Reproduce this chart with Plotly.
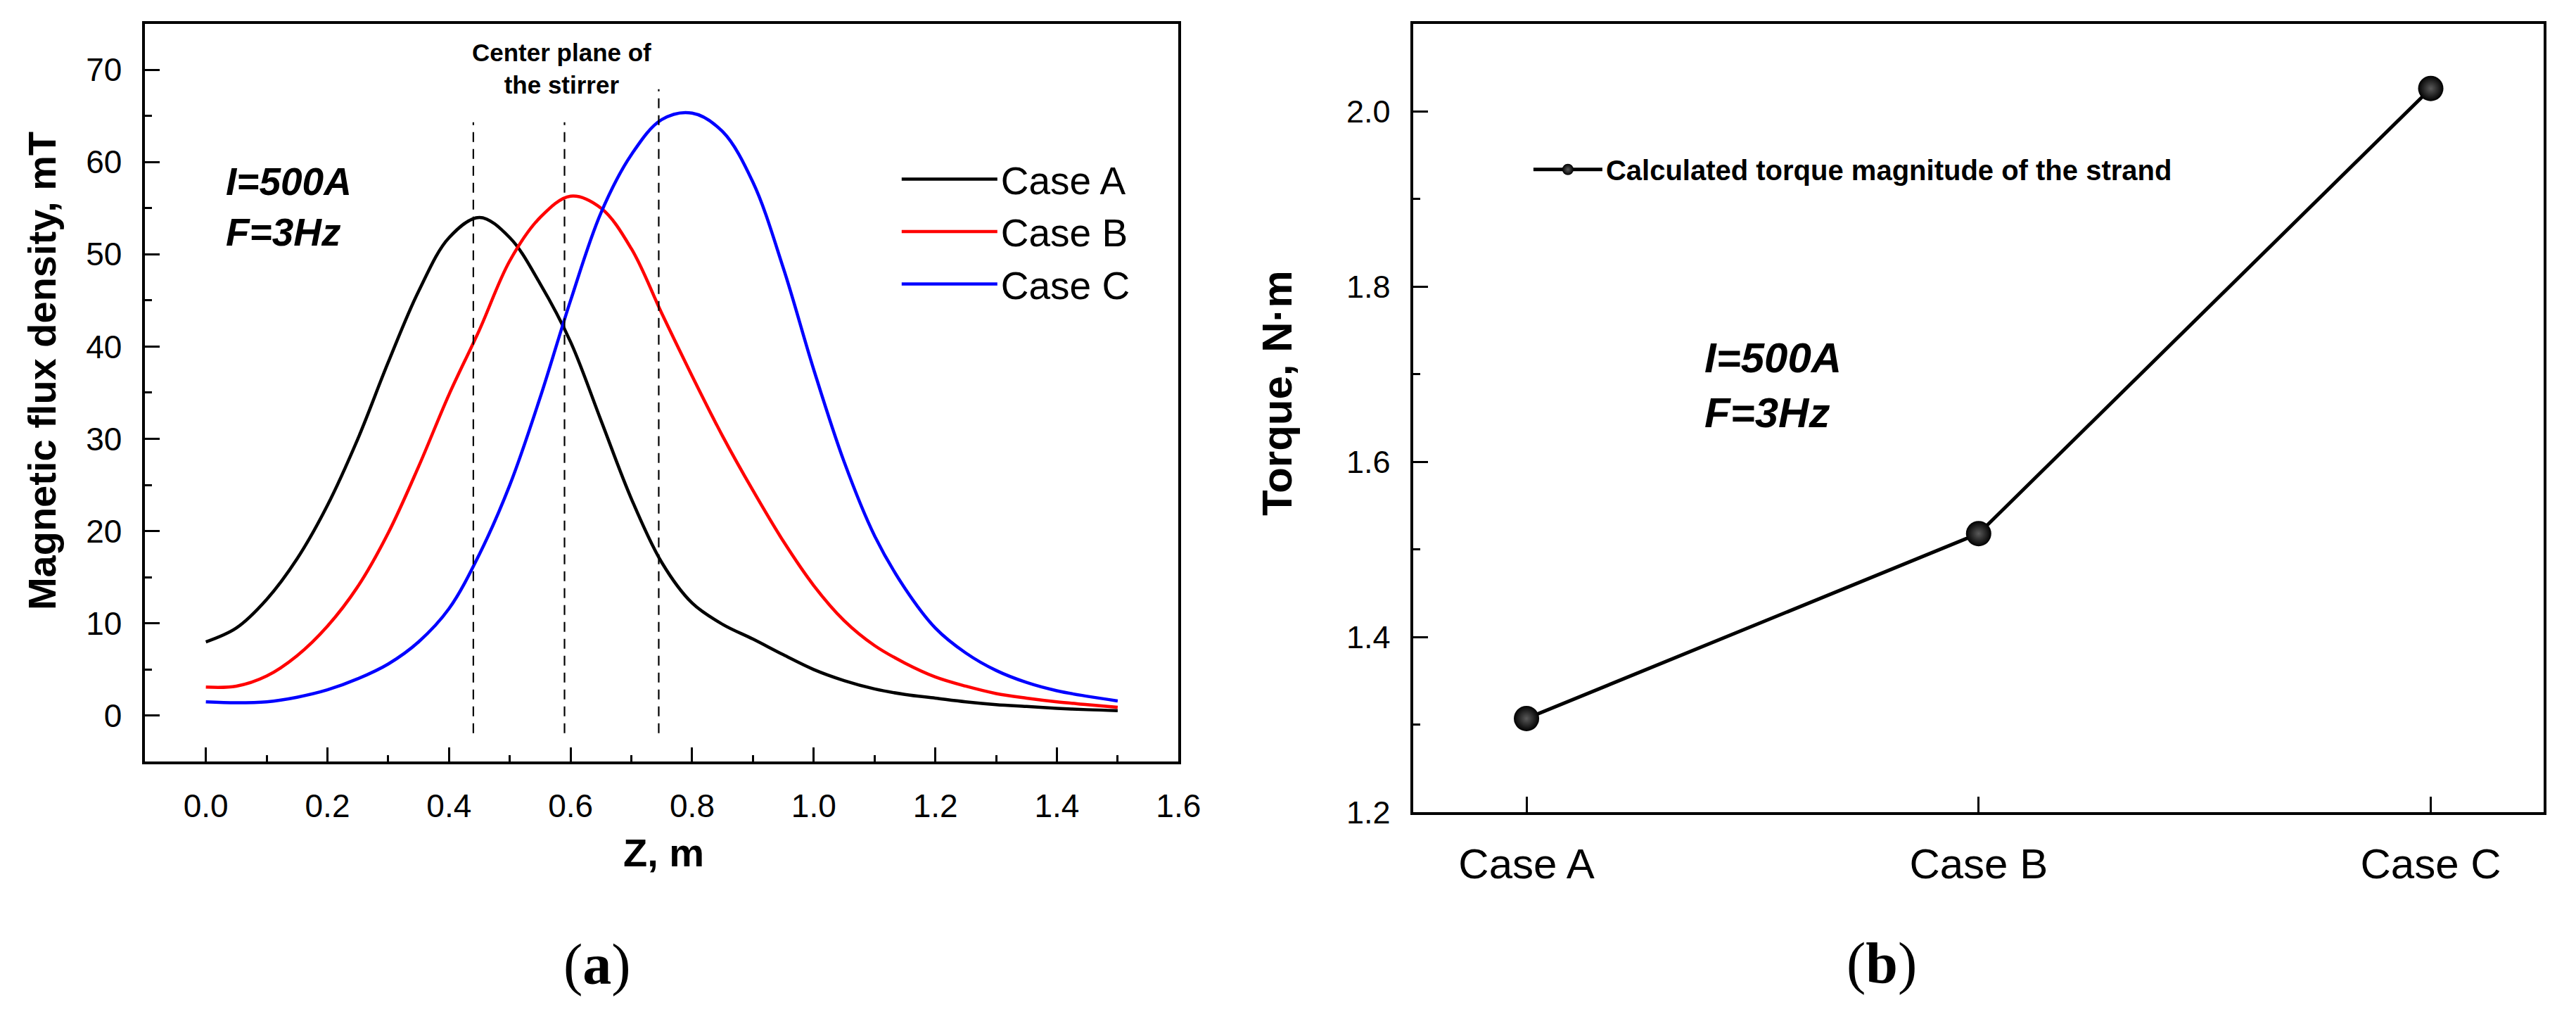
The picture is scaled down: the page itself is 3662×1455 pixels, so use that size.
import plotly.graph_objects as go

# ---------------- data ----------------
z_m = [0.00, 0.05, 0.10, 0.15, 0.20, 0.25, 0.30, 0.35, 0.40, 0.45, 0.50,
       0.55, 0.60, 0.65, 0.70, 0.75, 0.80, 0.85, 0.90, 0.95, 1.00,
       1.05, 1.10, 1.15, 1.20, 1.25, 1.30, 1.35, 1.40, 1.45, 1.50]
case_a = [8.0, 9.5, 12.6, 17.0, 22.8, 30.0, 38.3, 46.0, 51.8, 54.0, 51.8,
          46.8, 40.5, 32.0, 23.5, 16.6, 12.2, 9.9, 8.3, 6.6, 5.0,
          3.8, 2.9, 2.3, 1.9, 1.5, 1.2, 1.0, 0.8, 0.65, 0.55]
case_b = [3.1, 3.2, 4.3, 6.5, 9.7, 14.0, 19.8, 27.0, 34.8, 41.8, 49.3,
          54.0, 56.3, 55.0, 50.6, 43.6, 36.8, 30.3, 24.4, 18.9, 14.1,
          10.3, 7.6, 5.7, 4.2, 3.2, 2.4, 1.9, 1.5, 1.2, 0.9]
case_c = [1.5, 1.4, 1.5, 2.0, 2.8, 4.0, 5.6, 8.0, 11.6, 17.5, 25.0,
          34.5, 45.0, 54.5, 60.8, 64.6, 65.3, 63.3, 57.8, 48.5, 37.5,
          27.5, 19.5, 13.8, 9.5, 6.8, 4.9, 3.6, 2.7, 2.1, 1.6]
series_names = ["Case A", "Case B", "Case C"]
series_colors = ["#000000", "#ff0000", "#0000ff"]

# center-plane reference lines (z position, top, bottom in mT)
plane_z = [0.44, 0.59, 0.745]
plane_top = [64.3, 64.3, 67.9]
plane_bottom = [-1.9, -1.9, -1.9]

# torque panel
torque_cases = ["Case A", "Case B", "Case C"]
torque_values = [1.307, 1.518, 2.026]

# ---------------- style ----------------
SANS = "Liberation Sans, Arial, sans-serif"
SERIF = "Liberation Serif, Times New Roman, serif"
W, H = 3662, 1455

def px_x(p):
    return p / W

def px_y(p):
    return 1 - p / H

fig = go.Figure()

for name, col, vals in zip(series_names, series_colors, [case_a, case_b, case_c]):
    fig.add_trace(go.Scatter(
        x=z_m, y=vals, mode="lines", name=name,
        line=dict(color=col, width=4.5, shape="spline", smoothing=1.0),
        xaxis="x", yaxis="y", legend="legend"))

for zx, yt, yb in zip(plane_z, plane_top, plane_bottom):
    fig.add_trace(go.Scatter(
        x=[zx, zx], y=[yb, yt], mode="lines", showlegend=False,
        line=dict(color="black", width=2.2, dash="14px,10px"),
        xaxis="x", yaxis="y", hoverinfo="skip"))

fig.add_trace(go.Scatter(
    x=torque_cases, y=torque_values, mode="lines+markers",
    name="<b>Calculated torque magnitude of the strand</b>",
    line=dict(color="black", width=5),
    marker=dict(size=36, color="black",
                gradient=dict(type="radial", color="#5a5a5a"),
                line=dict(width=0)),
    xaxis="x2", yaxis="y2", legend="legend2"))

axis_common = dict(
    showline=True, linewidth=3.5, linecolor="black", mirror=True,
    showgrid=False, zeroline=False,
    ticks="inside", ticklen=21, tickwidth=3, tickcolor="black",
    tickfont=dict(family=SANS, size=46, color="black"),
    ticklabelstandoff=20,
)

fig.update_layout(
    width=W, height=H,
    margin=dict(l=0, r=0, t=0, b=0),
    paper_bgcolor="white", plot_bgcolor="white",
    font=dict(family=SANS, color="black"),
    xaxis=dict(domain=[px_x(200), px_x(1682)], range=[-0.1, 1.6],
               tick0=0, dtick=0.2, tickformat=".1f", anchor="y",
               minor=dict(ticks="inside", ticklen=10, tickwidth=3,
                          tickcolor="black", dtick=0.1, tick0=0, showgrid=False),
               **axis_common),
    yaxis=dict(domain=[px_y(1094), px_y(26)], range=[-5, 75],
               tick0=0, dtick=10, anchor="x",
               minor=dict(ticks="inside", ticklen=10, tickwidth=3,
                          tickcolor="black", dtick=5, tick0=0, showgrid=False),
               **axis_common),
    xaxis2=dict(domain=[px_x(2019), px_x(3640)], range=[-0.25, 2.25],
                type="category", anchor="y2",
                **{**axis_common,
                   "tickfont": dict(family=SANS, size=60, color="black"),
                   "ticklen": 22, "ticklabelstandoff": 18}),
    yaxis2=dict(domain=[px_y(1167), px_y(26)], range=[1.2, 2.1],
                tick0=1.2, dtick=0.2, tickformat=".1f", anchor="x2",
                minor=dict(ticks="inside", ticklen=10, tickwidth=3,
                           tickcolor="black", dtick=0.1, tick0=1.2, showgrid=False),
                **{**axis_common,
                   "tickfont": dict(family=SANS, size=45, color="black")}),
    legend=dict(x=px_x(1280), y=px_y(327), xanchor="left", yanchor="middle",
                font=dict(family=SANS, size=55, color="black"),
                itemwidth=136, bgcolor="rgba(0,0,0,0)", borderwidth=0,
                tracegroupgap=0),
    legend2=dict(x=px_x(2186), y=px_y(237), xanchor="left", yanchor="middle",
                 font=dict(family=SANS, size=40, color="black"),
                 itemwidth=98, bgcolor="rgba(0,0,0,0)", borderwidth=0),
    showlegend=True,
)

annotations = [
    # axis titles
    dict(text="<b>Magnetic flux density, mT</b>", xref="paper", yref="paper",
         x=px_x(52), y=px_y(529), textangle=-90, showarrow=False,
         xanchor="center", yanchor="middle",
         font=dict(family=SANS, size=56, color="black")),
    dict(text="<b>Z, m</b>", xref="paper", yref="paper",
         x=px_x(944), y=px_y(1225), showarrow=False,
         xanchor="center", yanchor="middle",
         font=dict(family=SANS, size=56, color="black")),
    dict(text="<b>Torque, N·m</b>", xref="paper", yref="paper",
         x=px_x(1824), y=px_y(561), textangle=-90, showarrow=False,
         xanchor="center", yanchor="middle",
         font=dict(family=SANS, size=60, color="black")),
    # panel labels
    dict(text="(<b>a</b>)", xref="paper", yref="paper",
         x=px_x(848), y=px_y(1387), showarrow=False,
         xanchor="center", yanchor="middle",
         font=dict(family=SERIF, size=82, color="black")),
    dict(text="(<b>b</b>)", xref="paper", yref="paper",
         x=px_x(2691), y=px_y(1385), showarrow=False,
         xanchor="center", yanchor="middle",
         font=dict(family=SERIF, size=82, color="black")),
    # in-plot texts
    dict(text="<b>Center plane of<br>the stirrer</b>", xref="x", yref="y",
         x=0.585, y=70.1, showarrow=False, xanchor="center", yanchor="middle",
         font=dict(family=SANS, size=35, color="black")),
    dict(text="<b><i>I=500A</i></b><br><b><i>F=3Hz</i></b>", xref="x", yref="y",
         x=0.03, y=55.15, showarrow=False, xanchor="left", yanchor="middle",
         align="left", font=dict(family=SANS, size=55, color="black")),
    dict(text="<b><i>I=500A</i></b><br><b><i>F=3Hz</i></b>", xref="x2", yref="y2",
         x=0.39, y=1.687, showarrow=False, xanchor="left", yanchor="middle",
         align="left", font=dict(family=SANS, size=60, color="black")),
]
fig.update_layout(annotations=annotations)

fig.write_html("out.html")
